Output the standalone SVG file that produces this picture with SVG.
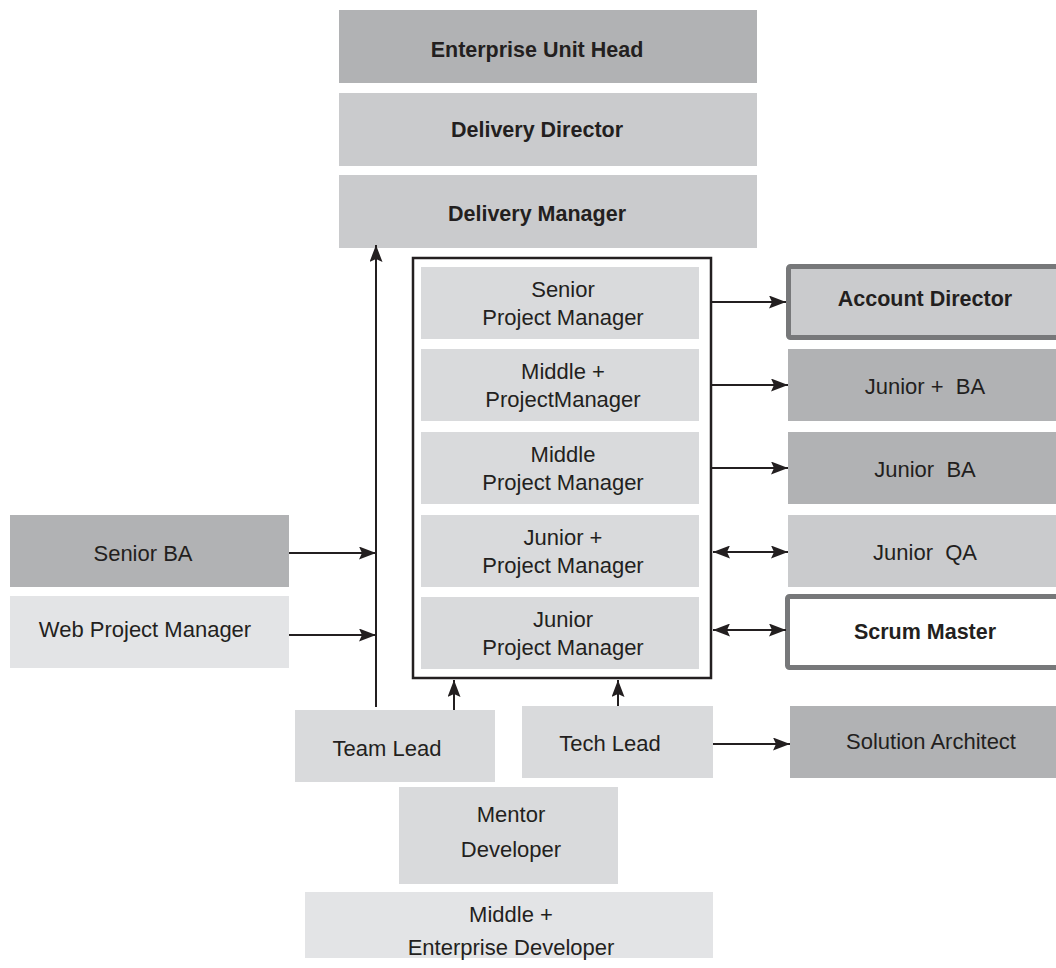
<svg xmlns="http://www.w3.org/2000/svg" width="1056" height="968" viewBox="0 0 1056 968">
<style>
text{font-family:"Liberation Sans",Arial,sans-serif;font-size:22px;fill:#231f20;text-anchor:middle}
.b{font-weight:bold;font-size:21.5px}
.dark{fill:#b1b2b4}
.mid{fill:#cacbcd}
.lt{fill:#d9dadc}
.xl{fill:#e3e4e6}
.ln{stroke:#231f20;stroke-width:2;fill:none}
</style>
<defs>
<marker id="ah" viewBox="0 0 17 13" refX="17" refY="6.5" markerWidth="17" markerHeight="13" markerUnits="userSpaceOnUse" orient="auto-start-reverse">
<path d="M0,0 L17,6.5 L0,13 L3,6.5 Z" fill="#231f20"/>
</marker>
</defs>
<rect width="1056" height="968" fill="#fff"/>
<g id="enterprise-unit-head"><rect class="dark" x="339" y="10" width="418" height="73"/><text class="b" x="537" y="57">Enterprise Unit Head</text></g>
<g id="delivery-director"><rect class="mid" x="339" y="93" width="418" height="73"/><text class="b" x="537" y="137">Delivery Director</text></g>
<g id="delivery-manager"><rect class="mid" x="339" y="175" width="418" height="73"/><text class="b" x="537" y="221">Delivery Manager</text></g>
<g id="pm-container"><rect x="413" y="258" width="298" height="420" fill="none" stroke="#231f20" stroke-width="2.5"/></g>
<g id="senior-pm"><rect class="lt" x="421" y="267" width="278" height="72"/><text x="563" y="297">Senior</text><text x="563" y="325">Project Manager</text></g>
<g id="middle-plus-pm"><rect class="lt" x="421" y="349" width="278" height="72"/><text x="563" y="379">Middle +</text><text x="563" y="407">ProjectManager</text></g>
<g id="middle-pm"><rect class="lt" x="421" y="432" width="278" height="72"/><text x="563" y="462">Middle</text><text x="563" y="490">Project Manager</text></g>
<g id="junior-plus-pm"><rect class="lt" x="421" y="515" width="278" height="72"/><text x="563" y="545">Junior +</text><text x="563" y="573">Project Manager</text></g>
<g id="junior-pm"><rect class="lt" x="421" y="597" width="278" height="72"/><text x="563" y="627">Junior</text><text x="563" y="655">Project Manager</text></g>
<g id="account-director"><rect class="mid" x="788.5" y="266.5" width="280" height="71" rx="2" stroke="#77787a" stroke-width="5"/><text class="b" x="925" y="306">Account Director</text></g>
<g id="junior-plus-ba"><rect class="dark" x="788" y="349" width="268" height="72"/><text x="925" y="394" xml:space="preserve">Junior +  BA</text></g>
<g id="junior-ba"><rect class="dark" x="788" y="432" width="268" height="72"/><text x="925" y="477" xml:space="preserve">Junior  BA</text></g>
<g id="junior-qa"><rect class="mid" x="788" y="515" width="268" height="72"/><text x="925" y="560" xml:space="preserve">Junior  QA</text></g>
<g id="scrum-master"><rect x="787.5" y="596.5" width="280" height="71" rx="2" fill="#fff" stroke="#77787a" stroke-width="5"/><text class="b" x="925" y="639">Scrum Master</text></g>
<g id="senior-ba"><rect class="dark" x="10" y="515" width="279" height="72"/><text x="143" y="561">Senior BA</text></g>
<g id="web-pm"><rect class="xl" x="10" y="596" width="279" height="72"/><text x="145" y="637">Web Project Manager</text></g>
<g id="team-lead"><rect class="lt" x="295" y="710" width="200" height="72"/><text x="387" y="756">Team Lead</text></g>
<g id="tech-lead"><rect class="lt" x="522" y="706" width="191" height="72"/><text x="610" y="751">Tech Lead</text></g>
<g id="solution-architect"><rect class="dark" x="790" y="706" width="266" height="72"/><text x="931" y="749">Solution Architect</text></g>
<g id="mentor-developer"><rect class="lt" x="399" y="787" width="219" height="97"/><text x="511" y="822">Mentor</text><text x="511" y="857">Developer</text></g>
<g id="middle-plus-enterprise-dev"><rect class="xl" x="305" y="892" width="408" height="66"/><text x="511" y="922">Middle +</text><text x="511" y="955">Enterprise Developer</text></g>
<g id="connectors">
<line class="ln" x1="376" y1="707" x2="376" y2="245" marker-end="url(#ah)"/>
<line class="ln" x1="289" y1="553" x2="376" y2="553" marker-end="url(#ah)"/>
<line class="ln" x1="289" y1="635" x2="376" y2="635" marker-end="url(#ah)"/>
<line class="ln" x1="711" y1="302" x2="786" y2="302" marker-end="url(#ah)"/>
<line class="ln" x1="711" y1="385" x2="788" y2="385" marker-end="url(#ah)"/>
<line class="ln" x1="711" y1="468" x2="788" y2="468" marker-end="url(#ah)"/>
<line class="ln" x1="713" y1="552" x2="788" y2="552" marker-start="url(#ah)" marker-end="url(#ah)"/>
<line class="ln" x1="713" y1="630" x2="786" y2="630" marker-start="url(#ah)" marker-end="url(#ah)"/>
<line class="ln" x1="454" y1="710" x2="454" y2="680" marker-end="url(#ah)"/>
<line class="ln" x1="618" y1="706" x2="618" y2="680" marker-end="url(#ah)"/>
<line class="ln" x1="713" y1="744" x2="790" y2="744" marker-end="url(#ah)"/>
</g>
</svg>
